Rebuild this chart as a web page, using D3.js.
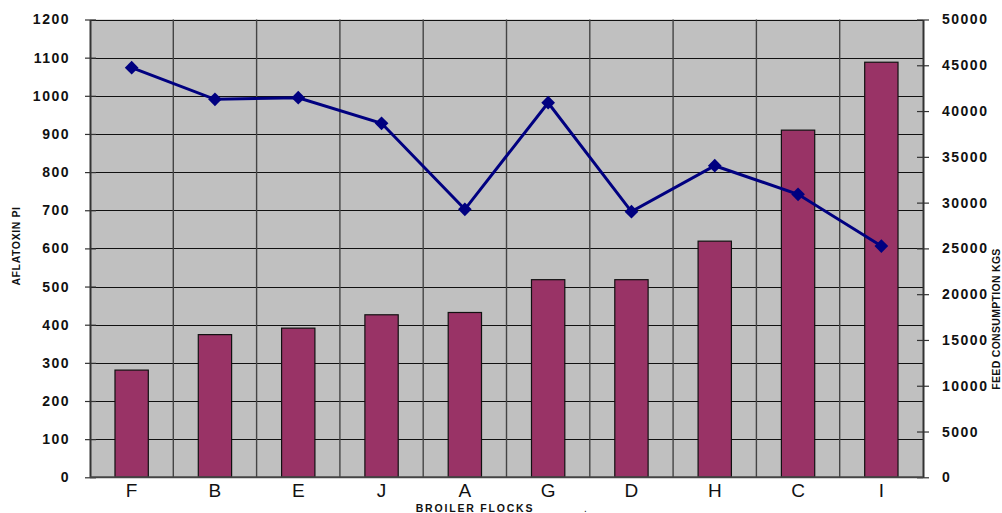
<!DOCTYPE html>
<html>
<head>
<meta charset="utf-8">
<script src="https://cdn.jsdelivr.net/npm/d3@7/dist/d3.min.js"></script>
<style>
  html, body { margin: 0; padding: 0; background: #fff; }
  svg { display: block; font-family: "Liberation Sans", Arial, sans-serif; }
</style>
</head>
<body>
<svg id="chart" width="1002" height="513"></svg>
<script>
// Broiler flocks: aflatoxin (bars, left axis) and feed consumption (line, right axis)
const flocks = ["F", "B", "E", "J", "A", "G", "D", "H", "C", "I"];
const aflatoxin = [281, 374, 391, 426, 432, 518, 518, 619, 910, 1088];
const feedKgs = [44740, 41280, 41460, 38660, 29270, 40910, 29010, 34030, 30910, 25260];
const leftTicks = [0, 100, 200, 300, 400, 500, 600, 700, 800, 900, 1000, 1100, 1200];
const rightTicks = [0, 5000, 10000, 15000, 20000, 25000, 30000, 35000, 40000, 45000, 50000];

const svg = d3.select("#chart");
const plot = { left: 90, right: 923, top: 19.5, bottom: 477.3 };

const x = d3.scaleBand().domain(flocks).range([plot.left, plot.right]).padding(0);
const yL = d3.scaleLinear().domain([0, 1200]).range([plot.bottom, plot.top]);
const yR = d3.scaleLinear().domain([0, 50000]).range([plot.bottom, plot.top]);

// plot area background
svg.append("rect")
  .attr("x", plot.left).attr("y", plot.top)
  .attr("width", plot.right - plot.left).attr("height", plot.bottom - plot.top)
  .attr("fill", "#c0c0c0");

// horizontal gridlines
svg.append("g").selectAll("line").data(leftTicks).join("line")
  .attr("x1", plot.left).attr("x2", plot.right)
  .attr("y1", d => Math.round(yL(d)) + 0.5).attr("y2", d => Math.round(yL(d)) + 0.5)
  .attr("stroke", "#111").attr("stroke-width", 1.2);

// vertical gridlines at category boundaries
const bounds = flocks.slice(1).map(f => x(f));
svg.append("g").selectAll("line").data(bounds).join("line")
  .attr("x1", d => d).attr("x2", d => d)
  .attr("y1", plot.top).attr("y2", plot.bottom)
  .attr("stroke", "#444").attr("stroke-width", 1.4);

// bars
const barW = x.bandwidth() * 0.4;
svg.append("g").selectAll("rect").data(flocks).join("rect")
  .attr("x", (d) => x(d) + (x.bandwidth() - barW) / 2)
  .attr("y", (d, i) => yL(aflatoxin[i]))
  .attr("width", barW)
  .attr("height", (d, i) => plot.bottom - yL(aflatoxin[i]))
  .attr("fill", "#993366")
  .attr("stroke", "#111").attr("stroke-width", 1.2);

// axes
const plain = d3.format("d");
const leftAxis = svg.append("g")
  .attr("transform", `translate(${plot.left},0)`)
  .call(d3.axisLeft(yL).tickValues(leftTicks).tickFormat(plain)
    .tickSizeInner(5).tickSizeOuter(0).tickPadding(15));
const rightAxis = svg.append("g")
  .attr("transform", `translate(${plot.right},0)`)
  .call(d3.axisRight(yR).tickValues(rightTicks).tickFormat(plain)
    .tickSizeInner(6).tickSizeOuter(0).tickPadding(13));

[leftAxis, rightAxis].forEach(g => {
  g.select(".domain").attr("stroke", "#333").attr("stroke-width", 2);
  g.selectAll(".tick line").attr("stroke", "#333").attr("stroke-width", 1.2);
  g.selectAll(".tick text")
    .attr("fill", "#111")
    .style("font-size", "14px")
    .style("font-weight", "bold")
    .style("letter-spacing", "1.5px");
});
leftAxis.selectAll(".tick line").attr("x1", 6);
rightAxis.selectAll(".tick line").attr("x1", -6);

// bottom axis line
svg.append("line")
  .attr("x1", plot.left).attr("x2", plot.right)
  .attr("y1", plot.bottom).attr("y2", plot.bottom)
  .attr("stroke", "#444").attr("stroke-width", 2);

// category labels
svg.append("g").selectAll("text").data(flocks).join("text")
  .attr("x", d => x(d) + x.bandwidth() / 2)
  .attr("y", 497)
  .attr("text-anchor", "middle")
  .attr("fill", "#111")
  .style("font-size", "19px")
  .text(d => d);

// feed consumption line
const line = d3.line()
  .x((d, i) => x(flocks[i]) + x.bandwidth() / 2)
  .y(d => yR(d));
svg.append("path")
  .datum(feedKgs)
  .attr("d", line)
  .attr("fill", "none")
  .attr("stroke", "#000080")
  .attr("stroke-width", 3);

svg.append("g").selectAll("path").data(feedKgs).join("path")
  .attr("d", d3.symbol().type(d3.symbolDiamond2).size(120))
  .attr("transform", (d, i) => `translate(${x(flocks[i]) + x.bandwidth() / 2},${yR(d)})`)
  .attr("fill", "#000080");

// axis titles
svg.append("text")
  .attr("transform", `translate(20,246) rotate(-90)`)
  .attr("text-anchor", "middle")
  .attr("fill", "#111")
  .style("font-size", "10.5px").style("font-weight", "bold").style("letter-spacing", "0.6px")
  .text("AFLATOXIN PI");

svg.append("text")
  .attr("transform", `translate(1000,319) rotate(-90)`)
  .attr("text-anchor", "middle")
  .attr("fill", "#111")
  .style("font-size", "10.5px").style("font-weight", "bold").style("letter-spacing", "0.3px")
  .text("FEED CONSUMPTION KGS");

svg.append("text")
  .attr("x", 475).attr("y", 512)
  .attr("text-anchor", "middle")
  .attr("fill", "#111")
  .style("font-size", "10.5px").style("font-weight", "bold").style("letter-spacing", "1.8px")
  .text("BROILER FLOCKS");

svg.append("text")
  .attr("x", 584).attr("y", 512)
  .attr("fill", "#111")
  .style("font-size", "10px")
  .text(".");
</script>
</body>
</html>
